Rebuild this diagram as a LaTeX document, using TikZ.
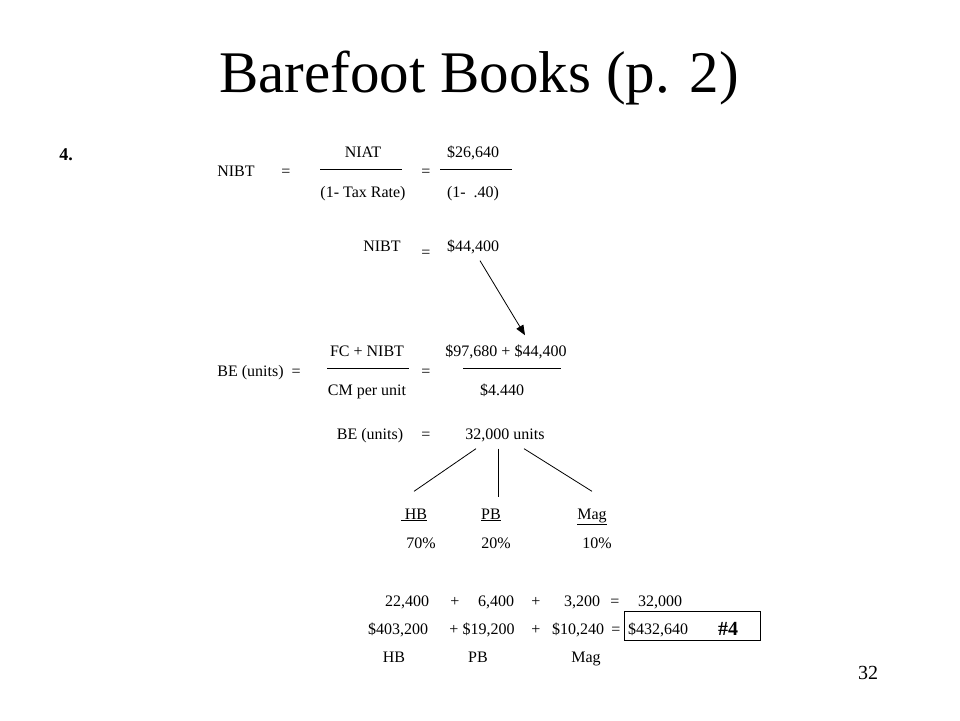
\documentclass[tikz,border=0pt]{standalone}
\usepackage{fontspec}
\setmainfont{Liberation Serif}
\usetikzlibrary{arrows.meta}
\tikzset{
	txt/.style={font=\fontsize{16}{19}\selectfont,anchor=base,inner sep=1pt},
	boldtxt/.style={font=\fontsize{20}{24}\selectfont\bfseries,anchor=base,inner sep=1pt},
	barline/.style={line width=0.9pt},
	link/.style={line width=0.8pt},
	pointer/.style={line width=0.8pt,-{Triangle[length=10pt,width=8pt]}}
}
\begin{document}
\begin{tikzpicture}[x=1pt,y=-1pt]
	\useasboundingbox (0,0) rectangle (960,720);
	\node[font=\fontsize{59}{64}\selectfont,anchor=base] (title) at (479,92) {Barefoot Books (p. 2)};
	\node[boldtxt,font=\fontsize{18}{21}\selectfont\bfseries] (part) at (66,160) {4.};
	\node[txt] (nibtA) at (236,176) {NIBT};
	\node[txt] (eqA) at (286,176) {=};
	\node[txt] (niat) at (363,157) {NIAT};
	\node[txt] (taxrate) at (363,197) {(1- Tax Rate)};
	\draw[barline] (320,169) -- (402,169);
	\node[txt] (eqB) at (426,176) {=};
	\node[txt] (niatval) at (473,157) {\$26,640};
	\node[txt] (rateval) at (473,197) {(1-\ \ .40)};
	\draw[barline] (440,169) -- (512,169);
	\node[txt] (nibtB) at (382,251) {NIBT};
	\node[txt] (eqC) at (426,257) {=};
	\node[txt] (nibtval) at (473,251) {\$44,400};
	\node[txt] (beA) at (259,376) {BE (units)\ \ =};
	\node[txt] (fcnibt) at (367,356) {FC + NIBT};
	\node[txt] (cmunit) at (367,395) {CM per unit};
	\draw[barline] (327,368) -- (409,368);
	\node[txt] (eqD) at (426,376) {=};
	\node[txt] (fcval) at (506,356) {\$97,680 + \$44,400};
	\node[txt] (cmval) at (502,395) {\$4.440};
	\draw[barline] (463,368) -- (561,368);
	\draw[pointer] ([xshift=7pt,yshift=-6pt]nibtval.south) -- ([xshift=19pt,yshift=8pt]fcval.north);
	\node[txt] (beB) at (370,439) {BE (units)};
	\node[txt] (eqE) at (426,439) {=};
	\node[txt] (units) at (505,439) {32,000 units};
	\node[txt] (hb) at (414,519) {\underline{\hspace{4pt}HB}};
	\node[txt] (pb) at (491,519) {\underline{PB}};
	\node[txt] (mag) at (592,519) {\underline{Mag}};
	\draw[link] ([xshift=-29pt,yshift=-6pt]units.south) -- ([yshift=16pt]hb.north);
	\draw[link] ([xshift=-7pt,yshift=-6pt]units.south) -- ([xshift=7pt,yshift=10pt]pb.north);
	\draw[link] ([xshift=19pt,yshift=-6pt]units.south) -- ([yshift=16pt]mag.north);
	\node[txt] (hbpct) at (421,548) {70\%};
	\node[txt] (pbpct) at (496,548) {20\%};
	\node[txt] (magpct) at (597,548) {10\%};
	\node[txt] (hbunits) at (407,606) {22,400};
	\node[txt] (plusA) at (455,606) {+};
	\node[txt] (pbunits) at (496,606) {6,400};
	\node[txt] (plusB) at (536,606) {+};
	\node[txt] (magunits) at (582,606) {3,200};
	\node[txt] (eqF) at (615,606) {=};
	\node[txt] (totunits) at (660,606) {32,000};
	\node[txt] (hbsales) at (398,634) {\$403,200};
	\node[txt] (pbsales) at (482,634) {+ \$19,200};
	\node[txt] (plusD) at (536,634) {+};
	\node[txt] (magsales) at (578,634) {\$10,240};
	\node[txt] (eqG) at (616,634) {=};
	\node[txt] (totsales) at (658,634) {\$432,640};
	\node[boldtxt] (answer) at (728,635) {\#4};
	\draw[line width=0.9pt] (624,611) rectangle (760,640);
	\node[txt] (hbname) at (394,662) {HB};
	\node[txt] (pbname) at (478,662) {PB};
	\node[txt] (magname) at (586,662) {Mag};
	\node[txt,font=\fontsize{20}{24}\selectfont] (page) at (868,679) {32};
\end{tikzpicture}
\end{document}
